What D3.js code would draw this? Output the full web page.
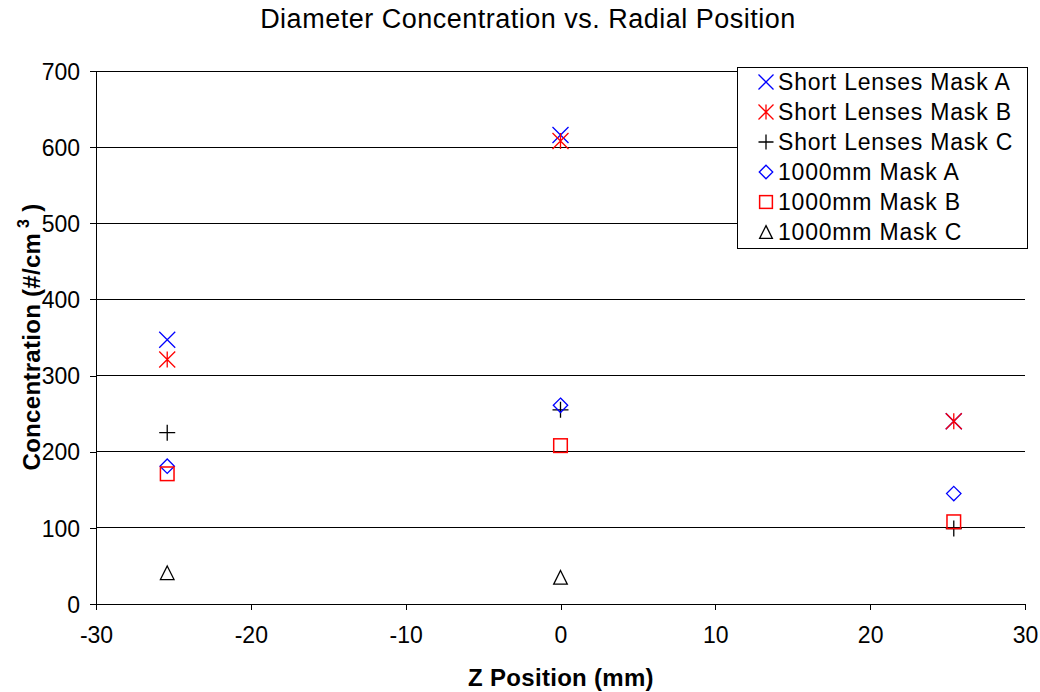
<!DOCTYPE html>
<html><head><meta charset="utf-8">
<script src="https://cdn.jsdelivr.net/npm/d3@7"></script>
<style>body{margin:0;background:#fff}svg{font-family:"Liberation Sans",Arial,sans-serif}</style>
</head><body><svg id="c" width="1040" height="692"></svg>
<script>
const positions = [-25.4, 0, 25.4];
const seriesNames = ["Short Lenses Mask A","Short Lenses Mask B","Short Lenses Mask C","1000mm Mask A","1000mm Mask B","1000mm Mask C"];
const shortA = [347, 616, 240];
const shortB = [321, 608, 240];
const shortC = [225, 255, 99];
const mmA = [181, 261, 145];
const mmB = [171, 208, 108];
const mmC = [41, 35, null];
const xTicks = [-30,-20,-10,0,10,20,30];
const yTicks = [0,100,200,300,400,500,600,700];

const series = [
 {name:seriesNames[0], vals:shortA, shape:"x", color:"#0000ff"},
 {name:seriesNames[1], vals:shortB, shape:"star", color:"#ff0000"},
 {name:seriesNames[2], vals:shortC, shape:"plus", color:"#000000"},
 {name:seriesNames[3], vals:mmA, shape:"diamond", color:"#0000ff"},
 {name:seriesNames[4], vals:mmB, shape:"square", color:"#ff0000"},
 {name:seriesNames[5], vals:mmC, shape:"triangle", color:"#000000"}
];

const svg = d3.select("#c");
const L=96, R=1025, T=71, B=604;
const x = d3.scaleLinear().domain([-30,30]).range([L,R]);
const y = d3.scaleLinear().domain([0,700]).range([B,T]);

svg.append("g").selectAll("line").data(yTicks.filter(d=>d>0)).join("line")
 .attr("x1",L).attr("x2",R).attr("y1",d=>y(d)).attr("y2",d=>y(d))
 .attr("stroke","#000").attr("stroke-width",1).attr("shape-rendering","crispEdges");

const xa = svg.append("g").attr("transform",`translate(0,${B})`)
 .call(d3.axisBottom(x).tickValues(xTicks).tickSize(6).tickPadding(17).tickFormat(d3.format("d")));
const ya = svg.append("g").attr("transform",`translate(${L},0)`)
 .call(d3.axisLeft(y).tickValues(yTicks).tickSize(6).tickPadding(10).tickFormat(d3.format("d")));
[xa,ya].forEach(a=>{
 a.attr("font-size",null).attr("font-family",null);
 a.selectAll("text").attr("fill","#000").style("font-family","Liberation Sans, Arial").style("font-size","23px");
 a.selectAll("line,path").attr("stroke","#000").attr("shape-rendering","crispEdges");
 a.select(".domain").attr("stroke-width",1.5);
});
xa.selectAll("text").text(d=>d<0?"-"+Math.abs(d):d);
ya.selectAll("text").attr("dy","0.36em");

function marker(g, shape, color, s){
 const h=s/2;
 if(shape==="x"){
  g.append("path").attr("d",`M${-h},${-h}L${h},${h}M${-h},${h}L${h},${-h}`).attr("stroke",color).attr("stroke-width",1.3).attr("fill","none");
 } else if(shape==="star"){
  g.append("path").attr("d",`M${-h},${-h}L${h},${h}M${-h},${h}L${h},${-h}M0,${-h}L0,${h}`).attr("stroke",color).attr("stroke-width",1.3).attr("fill","none");
 } else if(shape==="plus"){
  g.append("path").attr("d",`M${-h},0L${h},0M0,${-h}L0,${h}`).attr("stroke",color).attr("stroke-width",1.3).attr("fill","none");
 } else if(shape==="diamond"){
  const d=h*0.9;
  g.append("path").attr("d",`M0,${-d}L${d},0L0,${d}L${-d},0Z`).attr("stroke",color).attr("stroke-width",1.3).attr("fill","none");
 } else if(shape==="square"){
  const d=h*0.85;
  g.append("rect").attr("x",-d).attr("y",-d).attr("width",2*d).attr("height",2*d).attr("stroke",color).attr("stroke-width",1.5).attr("fill","none");
 } else if(shape==="triangle"){
  const d=h*0.85;
  g.append("path").attr("d",`M0,${-d}L${d},${d}L${-d},${d}Z`).attr("stroke",color).attr("stroke-width",1.3).attr("fill","none");
 }
}

series.forEach(sr=>{
 positions.forEach((p,i)=>{
  const v=sr.vals[i]; if(v==null) return;
  const g=svg.append("g").attr("transform",`translate(${x(p)},${y(v)})`);
  marker(g,sr.shape,sr.color,16);
 });
});

svg.append("text").attr("x",528).attr("y",28).attr("text-anchor","middle").attr("font-size",27).attr("letter-spacing","0.5px").text("Diameter Concentration vs. Radial Position");
svg.append("text").attr("x",561).attr("y",686).attr("text-anchor","middle").attr("font-size",24).attr("font-weight","bold").attr("letter-spacing","0.3px").text("Z Position (mm)");
const yl = svg.append("text").attr("transform","translate(40,337) rotate(-90)").attr("text-anchor","middle").attr("font-size",24).attr("font-weight","bold").attr("letter-spacing","0.3px");
yl.append("tspan").text("Concentration (#/cm");
yl.append("tspan").attr("font-size",16).attr("dy",-11).text(" 3");
yl.append("tspan").attr("dy",11).text(" )");

const lg = svg.append("g");
lg.append("rect").attr("x",737).attr("y",67).attr("width",290).attr("height",181).attr("fill","#fff").attr("stroke","#000").attr("stroke-width",1).attr("shape-rendering","crispEdges");
series.forEach((sr,i)=>{
 const yy=82+i*30;
 const g=lg.append("g").attr("transform",`translate(766,${yy})`);
 marker(g,sr.shape,sr.color,15);
 lg.append("text").attr("x",778).attr("y",yy+8).attr("font-size",23).attr("letter-spacing","0.8px").text(sr.name);
});
</script></body></html>
